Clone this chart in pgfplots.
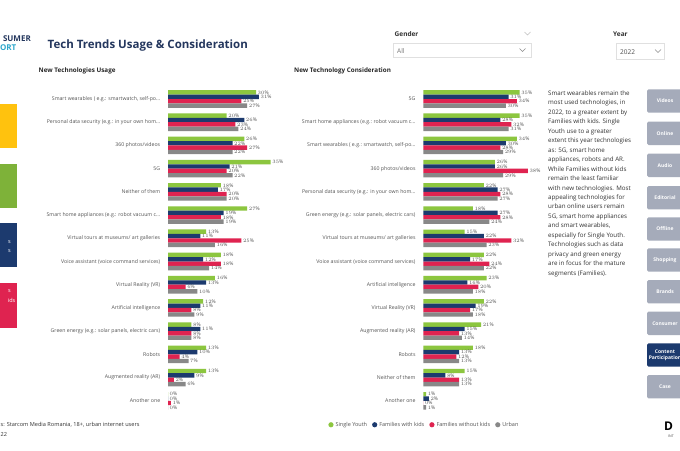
\documentclass[border=0pt]{standalone}
\usepackage{pgfplots}
\pgfplotsset{compat=1.18}
\usepackage{fontspec}
\setmainfont{Open Sans}
\definecolor{cgreen}{HTML}{8CC63F}
\definecolor{cnavy}{HTML}{1C3A6E}
\definecolor{cred}{HTML}{DF2350}
\definecolor{cgrey}{HTML}{888888}
\definecolor{cyellow}{HTML}{FFC20E}
\definecolor{ctitle}{HTML}{24375E}
\definecolor{cbtn}{HTML}{A5ABBA}
\definecolor{ctext}{HTML}{555555}
\definecolor{ccyan}{HTML}{2BA6CB}
\newcommand{\dd}{\ldots}
\pgfplotsset{
 techaxis/.style={
   scale only axis, width=110pt, height=325pt,
   xbar=0pt, bar width=4.4pt,
   xmin=0, ymin=-0.5, ymax=13.5, y dir=reverse,
   ytick={0,1,2,3,4,5,6,7,8,9,10,11,12,13},
   axis line style={draw=none}, tick style={draw=none},
   xtick=\empty,
   yticklabel style={font=\fontsize{5.2}{6}\selectfont, text=ctext},
   nodes near coords={\pgfmathprintnumber{\pgfplotspointmeta}\%},
   every node near coord/.append style={font=\fontsize{5}{5}\selectfont, text=ctext, inner sep=0pt, xshift=1.5pt},
   clip=false,
 },
 s1/.style={fill=cgreen, draw=none, bar shift=6.6pt, legend image code/.code={\fill[cgreen] (0pt,0pt) circle (2.6pt);}},
 s2/.style={fill=cnavy, draw=none, bar shift=2.2pt, legend image code/.code={\fill[cnavy] (0pt,0pt) circle (2.6pt);}},
 s3/.style={fill=cred, draw=none, bar shift=-2.2pt, legend image code/.code={\fill[cred] (0pt,0pt) circle (2.6pt);}},
 s4/.style={fill=cgrey, draw=none, bar shift=-6.6pt, legend image code/.code={\fill[cgrey] (0pt,0pt) circle (2.6pt);}},
}
\begin{document}
\begin{tikzpicture}
\path[use as bounding box, fill=white] (0pt,0pt) rectangle (680pt,-450pt);

% Left chart: usage
\begin{axis}[techaxis, at={(168pt,-87.4pt)}, anchor=north west, xmax=37.5,
  yticklabels={{Smart wearables ( e.g.: smartwatch, self-po\dd},{Personal data security (e.g.: in your own hom\dd},{360 photos/videos},{5G},{Neither of them},{Smart home appliances (e.g.: robot vacuum c\dd},{Virtual tours at museums/ art galleries},{Voice assistant (voice command services)},{Virtual Reality (VR)},{Artificial intelligence},{Green energy (e.g.: solar panels, electric cars)},{Robots},{Augmented reality (AR)},{Another one}}]
\addplot[s1] coordinates {(30,0) (20,1) (26,2) (35,3) (18,4) (27,5) (13,6) (18,7) (16,8) (12,9) (8,10) (13,11) (13,12) (0,13)};
\addplot[s2] coordinates {(31,0) (26,1) (22,2) (21,3) (17,4) (19,5) (11,6) (12,7) (13,8) (11,9) (11,10) (10,11) (9,12) (0,13)};
\addplot[s3] coordinates {(25,0) (23,1) (27,2) (20,3) (20,4) (18,5) (25,6) (18,7) (6,8) (8,9) (8,10) (4,11) (2,12) (1,13)};
\addplot[s4] coordinates {(27,0) (24,1) (22,2) (22,3) (20,4) (19,5) (16,6) (14,7) (10,8) (9,9) (8,10) (7,11) (6,12) (0,13)};
\end{axis}

% Right chart: consideration
\begin{axis}[techaxis, at={(423.3pt,-87.4pt)}, anchor=north west, xmax=40,
  yticklabels={{5G},{Smart home appliances (e.g.: robot vacuum c\dd},{Smart wearables ( e.g.: smartwatch, self-po\dd},{360 photos/videos},{Personal data security (e.g.: in your own hom\dd},{Green energy (e.g.: solar panels, electric cars)},{Virtual tours at museums/ art galleries},{Voice assistant (voice command services)},{Artificial intelligence},{Virtual Reality (VR)},{Augmented reality (AR)},{Robots},{Neither of them},{Another one}},
  legend columns=4,
  legend style={at={(0.01,-0.038)}, anchor=center, draw=none, fill=none, font=\fontsize{5.5}{6}\selectfont, text=ctext, /tikz/every even column/.append style={column sep=3pt}, inner sep=0pt},
  ]
\addplot[s1] coordinates {(35,0) (35,1) (34,2) (26,3) (22,4) (18,5) (15,6) (22,7) (23,8) (22,9) (21,10) (18,11) (15,12) (1,13)};
\addplot[s2] coordinates {(31,0) (28,1) (30,2) (26,3) (27,4) (27,5) (22,6) (17,7) (16,8) (19,9) (15,10) (13,11) (8,12) (2,13)};
\addplot[s3] coordinates {(34,0) (32,1) (28,2) (38,3) (28,4) (28,5) (32,6) (24,7) (20,8) (17,9) (13,10) (12,11) (13,12) (0,13)};
\addplot[s4] coordinates {(30,0) (31,1) (29,2) (29,3) (27,4) (24,5) (23,6) (22,7) (18,8) (18,9) (14,10) (13,11) (13,12) (1,13)};
\legend{Single Youth, Families with kids, Families without kids, Urban}
\end{axis}

\begin{scope}[x=1pt,y=-1pt]
% logo
\node[anchor=base east, inner sep=0, font=\fontsize{8}{8}\selectfont\bfseries, text=ctitle] at (31,41.5) {SUMER};
\node[anchor=base east, inner sep=0, font=\fontsize{8}{8}\selectfont\bfseries, text=ccyan] at (16.5,50) {ORT};
% title
\node[anchor=base west, inner sep=0, font=\fontsize{11.5}{12}\selectfont\bfseries, text=ctitle] at (47.5,48) {Tech Trends Usage \& Consideration};
\node[anchor=base west, inner sep=0, font=\fontsize{6.3}{7}\selectfont\bfseries, text=black!85] at (38.5,72) {New Technologies Usage};
\node[anchor=base west, inner sep=0, font=\fontsize{6.3}{7}\selectfont\bfseries, text=black!85] at (294,72) {New Technology Consideration};
% filters
\node[anchor=base west, inner sep=0, font=\fontsize{6.5}{7}\selectfont\bfseries, text=black!80] at (394.5,36.5) {Gender};
\draw[black!25, line width=0.5pt] (524.5,32) -- (527.5,35) -- (530.5,32);
\draw[black!12, line width=0.6pt] (393,43.5) rectangle (531,57.5);
\node[anchor=base west, inner sep=0, font=\fontsize{6.5}{7}\selectfont, text=black!55] at (397,53) {All};
\draw[black!45, line width=0.5pt] (519.5,48.5) -- (522.5,51.5) -- (525.5,48.5);
\node[anchor=base west, inner sep=0, font=\fontsize{6.5}{7}\selectfont\bfseries, text=black!80] at (613,36) {Year};
\draw[black!12, line width=0.6pt] (616,43.5) rectangle (664.5,59);
\node[anchor=base west, inner sep=0, font=\fontsize{6.5}{7}\selectfont, text=black!70] at (620,54) {2022};
\draw[black!45, line width=0.5pt] (655,49.5) -- (658,52.5) -- (661,49.5);
% left coloured panels
\fill[cyellow] (-5,104) rectangle (17,148);
\fill[cgreen!90!black] (-5,164) rectangle (17,208);
\fill[cnavy] (-5,223) rectangle (17,267);
\fill[cred] (-5,283) rectangle (17,328);
\node[anchor=base east, inner sep=0, font=\fontsize{5.5}{6}\selectfont, text=white] at (11,243.5) {s};
\node[anchor=base east, inner sep=0, font=\fontsize{5.5}{6}\selectfont, text=white] at (11,252.5) {s};
\node[anchor=base east, inner sep=0, font=\fontsize{5.5}{6}\selectfont, text=white] at (11,292) {s};
\node[anchor=base east, inner sep=0, font=\fontsize{5.5}{6}\selectfont, text=white] at (15.5,302) {ids};
% narrative
\foreach \t [count=\i from 0] in {{Smart wearables remain the},{most used technologies, in},{2022, to a greater extent by},{Families with kids. Single},{Youth use to a greater},{extent this year technologies},{as: 5G, smart home},{appliances, robots and AR.},{While Families without kids},{remain the least familiar},{with new technologies. Most},{appealing technologies for},{urban online users remain},{5G, smart home appliances},{and smart wearables,},{especially for Single Youth.},{Technologies such as data},{privacy and green energy},{are in focus for the mature},{segments (Families).}}
  {\node[anchor=base west, inner sep=0, font=\fontsize{6.2}{7}\selectfont, text=black!80] at (548,95.3+9.47*\i) {\t};}
% buttons
\foreach \y/\c/\t in {89.3/cbtn/Videos,121.7/cbtn/Online,153.7/cbtn/Audio,186/cbtn/Editorial,217.3/cbtn/Offline,248.3/cbtn/Shopping,280/cbtn/Brands,311.7/cbtn/Consumer,343.3/cnavy/{Content\\Participation},375/cbtn/Case}
  {\fill[\c, rounded corners=1.5pt] (647,\y) rectangle (700,\y+23.3);
   \node[align=center, inner sep=0, font=\fontsize{5}{6}\selectfont\bfseries, text=white] at (665,\y+11.6) {\t};}
% footer
\node[anchor=base west, inner sep=0, font=\fontsize{5.6}{6}\selectfont, text=black!80] at (0.5,426.5) {s: Starcom Media Romania, 18+, urban internet users};
\node[anchor=base west, inner sep=0, font=\fontsize{5.6}{6}\selectfont, text=black!80] at (0.5,436.5) {22};
\node[anchor=base west, inner sep=0, font=\fontsize{12}{12}\selectfont\bfseries, text=black] at (664,430) {D};
\node[anchor=base west, inner sep=0, font=\fontsize{3.5}{4}\selectfont, text=black!70] at (668,437) {INT};
\end{scope}
\end{tikzpicture}
\end{document}
